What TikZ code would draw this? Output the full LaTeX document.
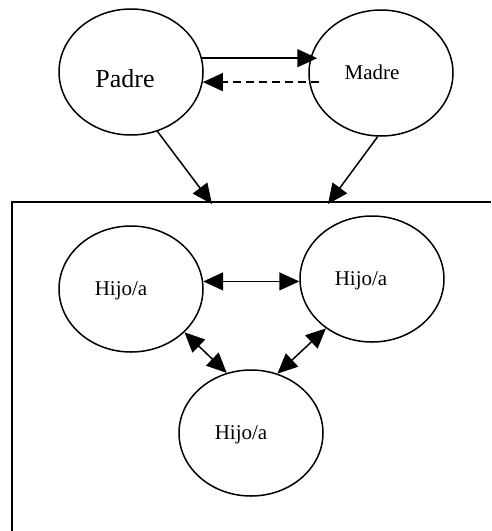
\documentclass[tikz,border=0pt]{standalone}
\usepackage{fontspec}
\setmainfont{Liberation Serif}
\usetikzlibrary{arrows.meta,shapes.geometric}
\begin{document}
\begin{tikzpicture}[x=1pt,y=-1pt,
  oval/.style={ellipse,draw,line width=1.5pt,minimum width=144pt,minimum height=126pt,inner sep=0pt},
  arr/.style={line width=1.5pt,-{Triangle[length=20pt,width=18pt]}},
  darr/.style={line width=1.5pt,{Triangle[length=20pt,width=18pt]}-{Triangle[length=20pt,width=18pt]}},
  dsh/.style={dash pattern=on 8pt off 5pt},
  big/.style={font=\fontsize{26}{30}\selectfont},
  small/.style={font=\fontsize{21}{25}\selectfont}]
\useasboundingbox (0,0) rectangle (491,531);
% family frame
\draw[line width=1.5pt] (491,202) -- (12,202) -- (12,531);
% parents
\node[oval,label={[big,xshift=-6pt,yshift=-7pt]center:Padre}] (padre) at (131,72) {};
\node[oval,label={[small,xshift=-9pt,yshift=1pt]center:Madre}] (madre) at (381,73) {};
% children
\node[oval,label={[small,xshift=-10pt,yshift=-2pt]center:Hijo/a}] (h1) at (131,289) {};
\node[oval,label={[small,xshift=-11pt,yshift=-2pt]center:Hijo/a}] (h2) at (372,279) {};
\node[oval,label={[small,xshift=-10pt,yshift=-2pt]center:Hijo/a}] (h3) at (251,433) {};
% entry points on the frame
\coordinate (t1) at (212,204);
\coordinate (t2) at (328,204);
% connectors
\draw[arr] (padre.11) -- ([xshift=9pt]padre.11 -| madre.west);
\draw[arr,dsh] ([xshift=11pt]padre.-8 -| madre.west) -- (padre.-8);
\draw[arr] (padre.-66) -- (t1);
\draw[arr] (madre.-93) -- (t2);
\draw[darr] (h1.6) -- (h1.6 -| h2.west);
\draw[darr] (h1.-39) -- (h3.112);
\draw[darr] (h2.227) -- (h3.66);
\end{tikzpicture}
\end{document}
